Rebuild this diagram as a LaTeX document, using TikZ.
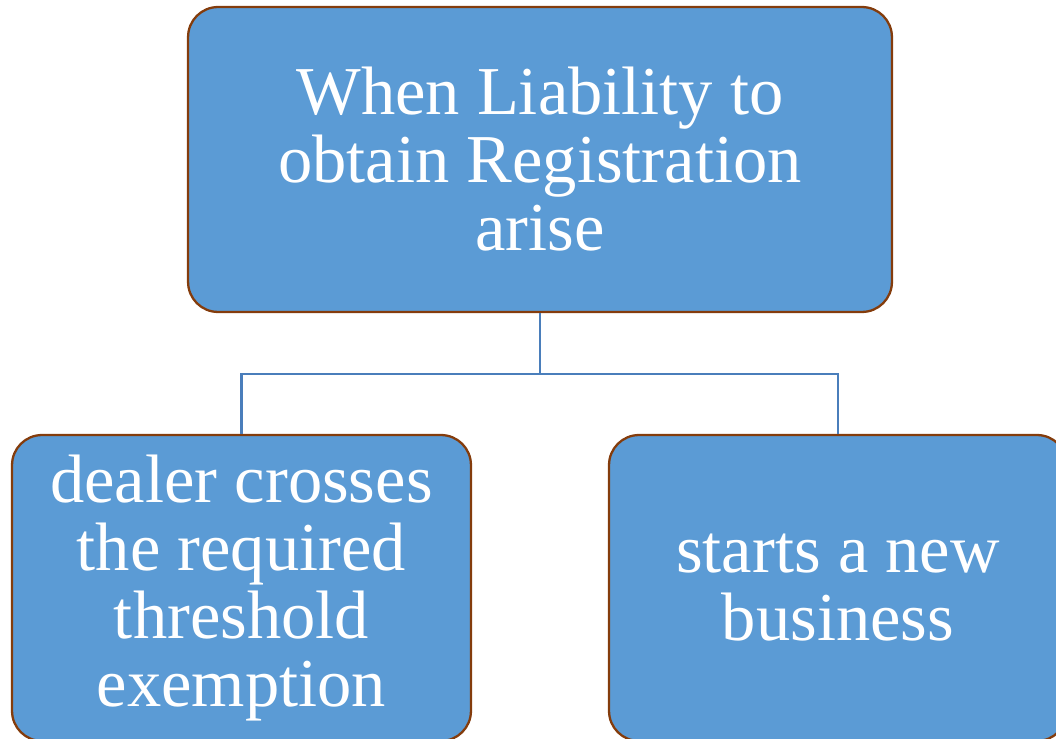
\documentclass[tikz,border=0pt]{standalone}
\usepackage{fontspec}
\setmainfont{Liberation Serif}
\definecolor{boxblue}{HTML}{5B9BD5}
\definecolor{boxrim}{HTML}{843C0C}
\definecolor{linkblue}{HTML}{4A7EBB}
\tikzset{
  card/.style={draw=boxrim, line width=1.3pt, fill=boxblue, rounded corners=0.6cm,
    text=white, align=center, inner sep=0pt,
    font=\fontsize{39}{38.7}\selectfont},
  link/.style={draw=linkblue, line width=1.4pt}
}
\begin{document}
\begin{tikzpicture}[x=0.02cm, y=-0.02cm]
\useasboundingbox (0,0) rectangle (1056,739);
\begin{scope}
\clip (0,0) rectangle (1056,739);
	\node[card, minimum width=14.08cm, minimum height=6.1cm] (liability) at (540,159.5)
		{When Liability to\\obtain Registration\\arise};
	\node[card, minimum width=9.18cm, minimum height=6.12cm] (threshold) at (241.5,588)
		{dealer crosses\\the required\\threshold\\exemption};
	\node[card, minimum width=9.16cm, minimum height=6.12cm] (newbiz) at (838,588)
		{starts a new\\business};
\end{scope}
	\coordinate (fork) at (540,374);
	\draw[link] (liability.south) -- (fork);
	\draw[link] (threshold.north) |- (fork) -| (newbiz.north);
\end{tikzpicture}
\end{document}
